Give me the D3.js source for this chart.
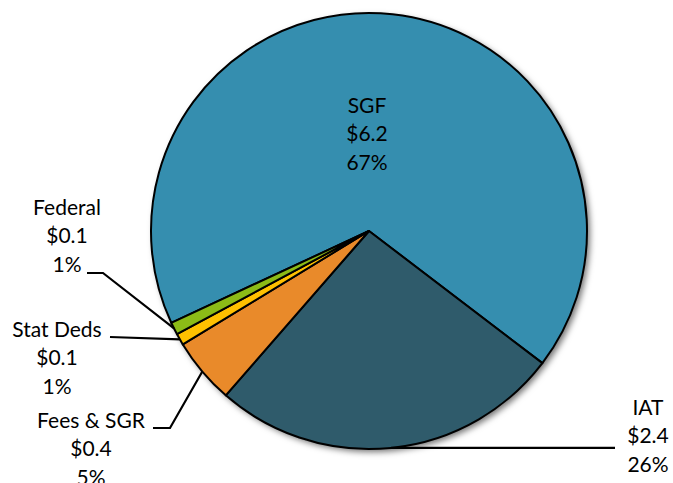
<!DOCTYPE html>
<html>
<head>
<meta charset="utf-8">
<script src="https://cdn.jsdelivr.net/npm/d3@7"></script>
<style>
  html, body { margin: 0; padding: 0; background: #fff; }
  svg { display: block; }
  text { font-family: Lato, "Open Sans", sans-serif; font-size: 21px; fill: #000; }
</style>
</head>
<body>
<svg id="chart" width="673" height="483"></svg>
<script>
// ---- data ----
const categories = ["SGF", "IAT", "Fees & SGR", "Stat Deds", "Federal"];
const values = [6.2, 2.4, 0.45, 0.08, 0.085];
const amountLabels = ["$6.2", "$2.4", "$0.4", "$0.1", "$0.1"];
const percentLabels = ["67%", "26%", "5%", "1%", "1%"];
const colors = ["#358EAF", "#2F5B6B", "#E98A2A", "#FFC000", "#8CBB17"];

// ---- layout ----
const cx = 369, cy = 231, R = 218;
const startDeg = -114.9;

const svg = d3.select("#chart");
const defs = svg.append("defs");
const f = defs.append("filter").attr("id", "shadow")
  .attr("x", "-20%").attr("y", "-20%").attr("width", "140%").attr("height", "140%");
f.append("feDropShadow").attr("dx", 3).attr("dy", 3).attr("stdDeviation", 3)
  .attr("flood-color", "#000").attr("flood-opacity", 0.55);

const pie = d3.pie().sort(null).value(d => d)
  .startAngle(startDeg * Math.PI / 180)
  .endAngle(startDeg * Math.PI / 180 + 2 * Math.PI);
const arcs = pie(values);
const arc = d3.arc().innerRadius(0).outerRadius(R);

const g = svg.append("g").attr("transform", `translate(${cx},${cy})`);
g.append("circle").attr("r", R).attr("fill", "#fff").attr("filter", "url(#shadow)");
g.selectAll("path.slice").data(arcs).enter().append("path")
  .attr("class", "slice")
  .attr("d", arc)
  .attr("fill", (d, i) => colors[i])
  .attr("stroke", "#000")
  .attr("stroke-width", 2)
  .attr("stroke-linejoin", "round");

const labelPos = [
  { x: 367, y: 113 },
  { x: 648, y: 415 },
  { x: 91, y: 428 },
  { x: 57, y: 337 },
  { x: 67, y: 215 }
];
const lineH = 28.3;

function edgePoint(d) {
  const a = (d.startAngle + d.endAngle) / 2;
  return [cx + R * Math.sin(a), cy - R * Math.cos(a)];
}

const leaders = [
  null,
  (d) => { const p = edgePoint(d); return [[615, p[1]], p]; },
  (d) => { const p = edgePoint(d); return [[153, 428], [170, 428], p]; },
  (d) => { const p = edgePoint(d); return [[110, 337], p]; },
  (d) => { const p = edgePoint(d); return [[87, 273], [103, 273], p]; }
];
arcs.forEach((d, i) => {
  if (!leaders[i]) return;
  svg.append("path")
    .attr("d", d3.line()(leaders[i](d)))
    .attr("fill", "none").attr("stroke", "#000").attr("stroke-width", 2.2);
});

arcs.forEach((d, i) => {
  const p = labelPos[i];
  const t = svg.append("text").attr("text-anchor", "middle");
  [categories[i], amountLabels[i], percentLabels[i]].forEach((s, k) => {
    t.append("tspan").attr("x", p.x).attr("y", p.y + k * lineH).text(s);
  });
});
</script>
</body>
</html>
